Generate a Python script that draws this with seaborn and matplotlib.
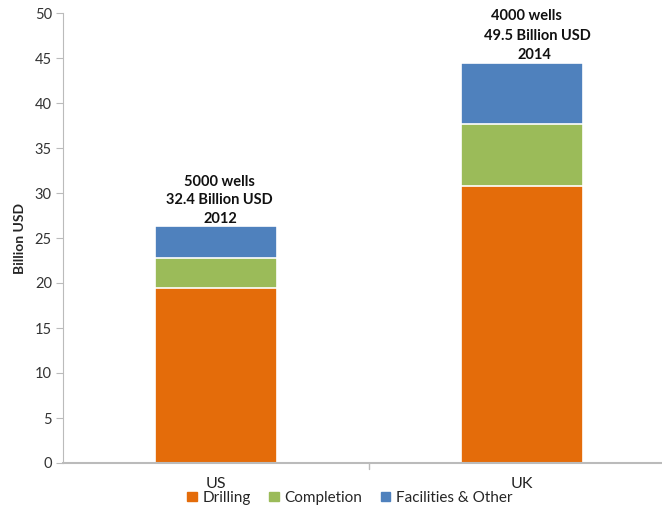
import numpy as np
import pandas as pd
import matplotlib
matplotlib.use("Agg")
import matplotlib.pyplot as plt
import seaborn as sns

countries = ["US", "UK"]
drilling = [19.4, 30.8]
completion = [3.4, 6.9]
facilities = [3.5, 6.8]
notes = [["5000 wells", "32.4 Billion USD", "2012"],
         ["4000 wells", "49.5 Billion USD", "2014"]]

sns.set_style("white")
plt.rcParams["font.family"] = ["Lato", "DejaVu Sans"]

df = pd.DataFrame({"Country": countries, "Drilling": drilling,
                   "Completion": completion, "Facilities & Other": facilities})
df["c1"] = df["Drilling"]
df["c2"] = df["c1"] + df["Completion"]
df["c3"] = df["c2"] + df["Facilities & Other"]

colors = {"Drilling": "#E46C0A", "Completion": "#9BBB59", "Facilities & Other": "#4F81BD"}

fig = plt.figure(figsize=(6.62, 5.08), dpi=100)
ax = fig.add_axes([63 / 662, 45 / 508, 612 / 662, 450 / 508])

# draw cumulative totals back to front
for col, name in [("c3", "Facilities & Other"), ("c2", "Completion"), ("c1", "Drilling")]:
    sns.barplot(data=df, x="Country", y=col, color=colors[name], width=0.4,
                edgecolor="white", linewidth=1.2, saturation=1, ax=ax, label=name)

ax.set_xlim(-0.5, 1.5)
ax.set_ylim(0, 50)
ax.set_yticks(range(0, 51, 5))
ax.set_xticks([0, 1])
ax.set_xticklabels(countries)
ax.set_xlabel("")
ax.set_ylabel("Billion USD", fontsize=10, fontweight="bold", labelpad=6)
ax.tick_params(axis="y", labelsize=10.5, labelcolor="#333333", length=5,
               color="#BBBBBB", direction="out", left=True, pad=3)
ax.tick_params(axis="x", labelsize=11.5, labelcolor="#222222", length=0, pad=10)
for s in ["top", "right"]:
    ax.spines[s].set_visible(False)
ax.spines["left"].set_color("#BBBBBB")
ax.spines["bottom"].set_color("#BBBBBB")
ax.spines["bottom"].set_linewidth(1.5)
# category divider tick
ax.plot([0.5, 0.5], [0, -0.7], color="#BBBBBB", lw=1, clip_on=False)

# annotations above bars
offsets = [[0.01, 0.01, 0.015], [0.016, 0.05, 0.04]]
gaps = [[4.15, 2.1, 0.05], [4.4, 2.2, 0.05]]
for i, lines in enumerate(notes):
    top = df["c3"].iloc[i]
    for j, txt in enumerate(lines):
        ax.text(i + offsets[i][j], top + gaps[i][j], txt, ha="center", va="bottom",
                fontsize=10.5, fontweight="bold", color="#111111")

handles = [plt.Rectangle((0, 0), 1, 1, color=colors[n]) for n in
           ["Drilling", "Completion", "Facilities & Other"]]
ax.legend().remove()
fig.legend(handles, ["Drilling", "Completion", "Facilities & Other"],
           loc="center", bbox_to_anchor=(350 / 662, 1 - 498 / 508), ncol=3,
           frameon=False, fontsize=11, handlelength=0.6, handleheight=0.6,
           handletextpad=0.4, columnspacing=1.2)

fig.savefig("out.png", dpi=100)
